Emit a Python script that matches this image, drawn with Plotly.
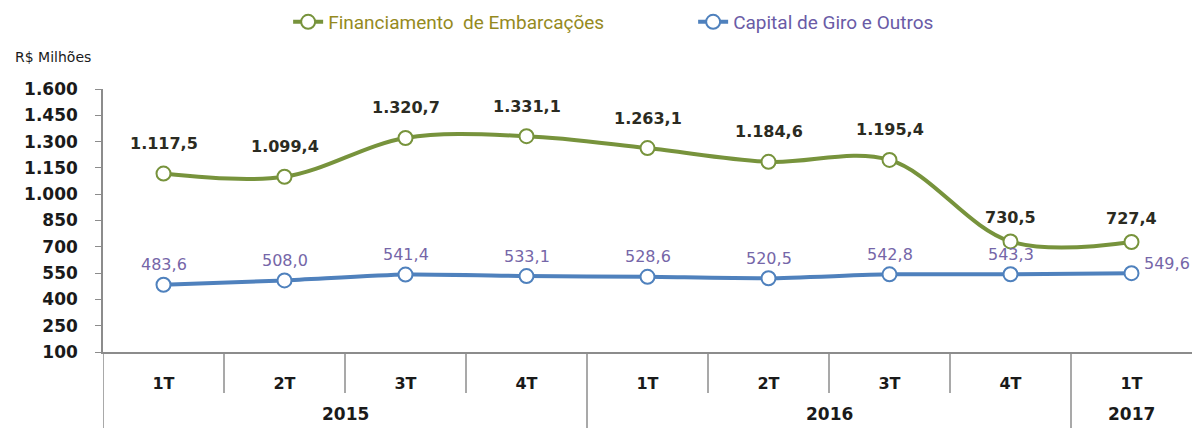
import plotly.graph_objects as go

years = ["2015", "2015", "2015", "2015", "2016", "2016", "2016", "2016", "2017"]
quarters = ["1T", "2T", "3T", "4T", "1T", "2T", "3T", "4T", "1T"]
financiamento = [1117.5, 1099.4, 1320.7, 1331.1, 1263.1, 1184.6, 1195.4, 730.5, 727.4]
capital = [483.6, 508.0, 541.4, 533.1, 528.6, 520.5, 542.8, 543.3, 549.6]
y_ticks = [100, 250, 400, 550, 700, 850, 1000, 1150, 1300, 1450, 1600]

cats = [f"{q} {y}" for q, y in zip(quarters, years)]
GREEN = "#77933C"
BLUE = "#4F81BD"
NUMFONT = "DejaVu Sans"


def br(v):
    s = f"{v:,.1f}"
    return s.replace(",", "X").replace(".", ",").replace("X", ".")


fig = go.Figure()
fig.add_trace(go.Scatter(
    x=cats, y=financiamento,
    name='<span style="color:#958a1e">Financiamento  de Embarcações</span>',
    mode="lines+markers", line=dict(color=GREEN, width=4, shape="spline", smoothing=1.0),
    marker=dict(size=14, color="white", line=dict(color=GREEN, width=2)),
    cliponaxis=False,
))
fig.add_trace(go.Scatter(
    x=cats, y=capital,
    name='<span style="color:#6a5ba6">Capital de Giro e Outros</span>',
    mode="lines+markers", line=dict(color=BLUE, width=4, shape="spline", smoothing=0.6),
    marker=dict(size=14, color="white", line=dict(color=BLUE, width=2)),
    cliponaxis=False,
))

annotations = []
for i, v in enumerate(financiamento):
    annotations.append(dict(x=cats[i], y=v, xref="x", yref="y", text=br(v), showarrow=False,
                            yshift=30 if v > 1000 else 24,
                            font=dict(family=NUMFONT, size=16, color="#2b2b22", weight="bold")))
for i, v in enumerate(capital):
    last = i == len(capital) - 1
    annotations.append(dict(x=cats[i], y=v, xref="x", yref="y", text=br(v), showarrow=False,
                            yshift=20 if not last else 10, xshift=0 if not last else 35,
                            font=dict(family=NUMFONT, size=16, color="#7566a8")))

# year labels
year_groups = {}
for i, y in enumerate(years):
    year_groups.setdefault(y, []).append(i)
for y, idx in year_groups.items():
    annotations.append(dict(x=sum(idx) / len(idx), y=-0.236, xref="x", yref="paper", text=y,
                            showarrow=False, yanchor="middle",
                            font=dict(family=NUMFONT, size=17, color="#1a1a1a", weight="bold")))

annotations.append(dict(xref="paper", yref="paper", x=-0.083, y=(352 - 57) / 263,
                        text="R$ Milhões", showarrow=False,
                        xanchor="left", yanchor="middle",
                        font=dict(family=NUMFONT, size=14, color="#1a1a1a")))

shapes = []
GRAY = "#8c8c8c"
for i in range(len(cats) - 1):
    b = i + 0.5
    full = years[i] != years[i + 1]
    shapes.append(dict(type="line", xref="x", yref="paper", x0=b, x1=b, y0=0,
                       y1=-0.289 if full else -0.156, line=dict(color=GRAY, width=1.5)))
shapes.append(dict(type="line", xref="x", yref="paper", x0=-0.5, x1=-0.5, y0=0, y1=-0.289,
                   line=dict(color=GRAY, width=1.5)))

fig.update_layout(
    width=1192, height=428,
    margin=dict(l=103, r=0, t=89, b=76),
    paper_bgcolor="white", plot_bgcolor="white",
    separators=",.",
    showlegend=True,
    legend=dict(orientation="h", x=0.17, xanchor="left", y=1.255, yanchor="middle",
                font=dict(family="Liberation Sans Narrow, Roboto", size=19),
                entrywidth=360, entrywidthmode="pixels"),
    annotations=annotations,
    shapes=shapes,
    xaxis=dict(type="category", range=[-0.5, len(cats) - 0.5], showgrid=False,
               tickvals=cats, ticktext=quarters, ticks="", ticklabelstandoff=16,
               showline=True, linecolor=GRAY, linewidth=1.5,
               tickfont=dict(family=NUMFONT, size=16, color="#1a1a1a", weight="bold")),
    yaxis=dict(range=[100, 1600], tickvals=y_ticks, tickformat=",d", showgrid=False,
               zeroline=False, showline=True, linecolor=GRAY, linewidth=1.5,
               ticks="outside", ticklen=6, tickcolor=GRAY, ticklabelstandoff=14,
               tickfont=dict(family=NUMFONT, size=17, color="#1a1a1a", weight="bold")),
)

fig.write_html("out.html")
